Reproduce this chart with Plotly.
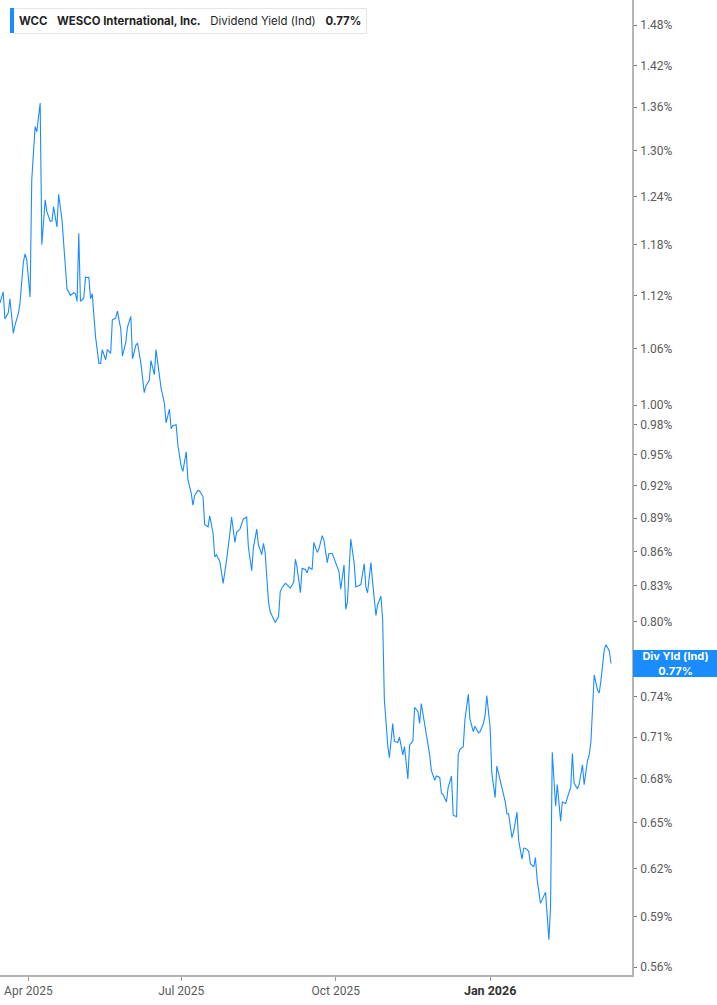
import math
import plotly.graph_objects as go

# ---- data ----
dates = [
    "2025-03-15", "2025-03-17", "2025-03-18", "2025-03-20", "2025-03-21", "2025-03-23", "2025-03-24", "2025-03-26",
    "2025-03-27", "2025-03-29", "2025-03-30", "2025-03-31", "2025-04-02", "2025-04-03", "2025-04-05", "2025-04-06",
    "2025-04-08", "2025-04-09", "2025-04-11", "2025-04-12", "2025-04-14", "2025-04-15", "2025-04-16", "2025-04-18",
    "2025-04-19", "2025-04-21", "2025-04-22", "2025-04-24", "2025-04-25", "2025-04-26", "2025-04-28", "2025-04-29",
    "2025-04-30", "2025-05-01", "2025-05-02", "2025-05-04", "2025-05-05", "2025-05-07", "2025-05-08", "2025-05-09",
    "2025-05-11", "2025-05-13", "2025-05-14", "2025-05-15", "2025-05-17", "2025-05-18", "2025-05-20", "2025-05-21",
    "2025-05-23", "2025-05-24", "2025-05-26", "2025-05-27", "2025-05-29", "2025-05-30", "2025-06-01", "2025-06-02",
    "2025-06-04", "2025-06-05", "2025-06-07", "2025-06-08", "2025-06-09", "2025-06-10", "2025-06-12", "2025-06-13",
    "2025-06-15", "2025-06-16", "2025-06-18", "2025-06-19", "2025-06-21", "2025-06-22", "2025-06-24", "2025-06-25",
    "2025-06-26", "2025-06-28", "2025-06-29", "2025-07-01", "2025-07-02", "2025-07-04", "2025-07-05", "2025-07-07",
    "2025-07-08", "2025-07-09", "2025-07-11", "2025-07-12", "2025-07-14", "2025-07-15", "2025-07-17", "2025-07-18",
    "2025-07-20", "2025-07-21", "2025-07-22", "2025-07-24", "2025-07-26", "2025-07-27", "2025-07-28", "2025-07-30",
    "2025-07-31", "2025-08-02", "2025-08-03", "2025-08-05", "2025-08-06", "2025-08-07", "2025-08-09", "2025-08-10",
    "2025-08-12", "2025-08-13", "2025-08-15", "2025-08-16", "2025-08-18", "2025-08-19", "2025-08-20", "2025-08-22",
    "2025-08-23", "2025-08-25", "2025-08-26", "2025-08-28", "2025-08-29", "2025-08-30", "2025-09-01", "2025-09-02",
    "2025-09-04", "2025-09-06", "2025-09-07", "2025-09-08", "2025-09-10", "2025-09-11", "2025-09-13", "2025-09-14",
    "2025-09-15", "2025-09-17", "2025-09-18", "2025-09-20", "2025-09-21", "2025-09-23", "2025-09-24", "2025-09-26",
    "2025-09-27", "2025-09-29", "2025-09-30", "2025-10-01", "2025-10-03", "2025-10-04", "2025-10-06", "2025-10-07",
    "2025-10-08", "2025-10-10", "2025-10-12", "2025-10-13", "2025-10-15", "2025-10-16", "2025-10-18", "2025-10-19",
    "2025-10-20", "2025-10-22", "2025-10-23", "2025-10-25", "2025-10-26", "2025-10-28", "2025-10-29", "2025-10-30",
    "2025-11-01", "2025-11-02", "2025-11-04", "2025-11-05", "2025-11-07", "2025-11-08", "2025-11-10", "2025-11-11",
    "2025-11-13", "2025-11-14", "2025-11-16", "2025-11-17", "2025-11-19", "2025-11-20", "2025-11-21", "2025-11-23",
    "2025-11-24", "2025-11-26", "2025-11-27", "2025-11-29", "2025-11-30", "2025-12-02", "2025-12-03", "2025-12-04",
    "2025-12-06", "2025-12-07", "2025-12-09", "2025-12-10", "2025-12-12", "2025-12-13", "2025-12-14", "2025-12-16",
    "2025-12-17", "2025-12-19", "2025-12-20", "2025-12-22", "2025-12-23", "2025-12-25", "2025-12-26", "2025-12-28",
    "2025-12-29", "2025-12-30", "2026-01-01", "2026-01-02", "2026-01-04", "2026-01-05", "2026-01-07", "2026-01-08",
    "2026-01-10", "2026-01-11", "2026-01-12", "2026-01-14", "2026-01-15", "2026-01-17", "2026-01-18", "2026-01-20",
    "2026-01-21", "2026-01-22", "2026-01-24", "2026-01-25", "2026-01-27", "2026-01-28", "2026-01-29", "2026-01-31",
    "2026-02-02", "2026-02-03", "2026-02-05", "2026-02-06", "2026-02-07", "2026-02-09", "2026-02-10", "2026-02-12",
    "2026-02-13", "2026-02-15", "2026-02-16", "2026-02-18", "2026-02-19", "2026-02-20", "2026-02-22", "2026-02-23",
    "2026-02-25", "2026-02-26", "2026-02-28", "2026-03-01", "2026-03-02", "2026-03-04", "2026-03-06", "2026-03-07",
    "2026-03-08", "2026-03-10", "2026-03-11", "2026-03-13", "2026-03-14",
]

div_yield = [
    1.111, 1.124, 1.093, 1.100, 1.116, 1.077, 1.086, 1.099,
    1.111, 1.159, 1.169, 1.162, 1.118, 1.262, 1.333, 1.326,
    1.366, 1.180, 1.236, 1.221, 1.209, 1.209, 1.227, 1.202,
    1.243, 1.211, 1.182, 1.127, 1.124, 1.120, 1.123, 1.122,
    1.113, 1.194, 1.113, 1.117, 1.141, 1.141, 1.116, 1.122,
    1.073, 1.044, 1.044, 1.059, 1.048, 1.059, 1.055, 1.092,
    1.094, 1.102, 1.082, 1.052, 1.067, 1.084, 1.096, 1.049,
    1.064, 1.066, 1.044, 1.024, 1.013, 1.020, 1.026, 1.047,
    1.032, 1.059, 1.028, 1.018, 1.002, 0.982, 0.996, 0.976,
    0.979, 0.980, 0.960, 0.939, 0.934, 0.953, 0.926, 0.913,
    0.902, 0.911, 0.916, 0.915, 0.910, 0.884, 0.882, 0.892,
    0.876, 0.855, 0.857, 0.851, 0.832, 0.841, 0.852, 0.876,
    0.891, 0.868, 0.877, 0.880, 0.885, 0.889, 0.891, 0.864,
    0.843, 0.863, 0.880, 0.866, 0.857, 0.867, 0.859, 0.816,
    0.808, 0.802, 0.799, 0.804, 0.825, 0.828, 0.832, 0.831,
    0.828, 0.833, 0.853, 0.846, 0.824, 0.845, 0.844, 0.841,
    0.846, 0.844, 0.868, 0.859, 0.862, 0.874, 0.870, 0.850,
    0.858, 0.858, 0.854, 0.850, 0.842, 0.827, 0.848, 0.810,
    0.816, 0.871, 0.850, 0.829, 0.830, 0.831, 0.849, 0.829,
    0.824, 0.850, 0.833, 0.805, 0.814, 0.821, 0.801, 0.738,
    0.704, 0.695, 0.720, 0.707, 0.706, 0.710, 0.697, 0.703,
    0.680, 0.704, 0.707, 0.732, 0.729, 0.720, 0.735, 0.721,
    0.712, 0.697, 0.686, 0.679, 0.682, 0.681, 0.670, 0.669,
    0.664, 0.674, 0.682, 0.655, 0.654, 0.697, 0.701, 0.703,
    0.723, 0.742, 0.723, 0.714, 0.718, 0.713, 0.714, 0.720,
    0.726, 0.741, 0.717, 0.684, 0.667, 0.689, 0.678, 0.674,
    0.664, 0.656, 0.656, 0.640, 0.644, 0.657, 0.638, 0.626,
    0.633, 0.633, 0.631, 0.623, 0.621, 0.627, 0.613, 0.598,
    0.602, 0.605, 0.576, 0.596, 0.699, 0.661, 0.676, 0.651,
    0.664, 0.663, 0.667, 0.674, 0.698, 0.677, 0.673, 0.676,
    0.690, 0.676, 0.693, 0.697, 0.706, 0.757, 0.745, 0.743,
    0.753, 0.777, 0.781, 0.776, 0.766,
]

y_tick_values = [0.56, 0.59, 0.62, 0.65, 0.68, 0.71, 0.74, 0.77, 0.80, 0.83, 0.86,
                 0.89, 0.92, 0.95, 0.98, 1.00, 1.06, 1.12, 1.18, 1.24, 1.30, 1.36,
                 1.42, 1.48]
x_tick_values = ["2025-04-01", "2025-07-01", "2025-10-01", "2026-01-01"]
x_tick_labels = ["Apr 2025", "Jul 2025", "Oct 2025",
                 "<b><span style='font-size:12.5px;color:#333333'>Jan 2026</span></b>"]

ticker = "WCC"
company = "WESCO International, Inc."
metric = "Dividend Yield (Ind)"
badge_title = "Div Yld (Ind)"

LINE_BLUE = "#1a8cff"
AXIS_GREY = "#b4b4b4"
TICK_TEXT = "#5a5a5a"

last_val = div_yield[-1]

fig = go.Figure()
fig.add_trace(go.Scatter(
    x=dates, y=div_yield, mode="lines",
    line=dict(color=LINE_BLUE, width=1.1),
    hoverinfo="skip", showlegend=False,
))

# the tick under the value badge keeps its mark but its label is covered
y_tick_text = ["" if abs(v - round(last_val, 2)) < 1e-9 else f"{v:.2f}%" for v in y_tick_values]

fig.update_layout(
    width=717, height=1005,
    margin=dict(l=0, r=85, t=0, b=30, autoexpand=False),
    paper_bgcolor="white", plot_bgcolor="white",
    font=dict(family="Roboto, Arial, sans-serif", size=12, color=TICK_TEXT),
    showlegend=False,
    xaxis=dict(
        type="date",
        range=["2025-03-15 02:00", "2026-03-26 12:00"],
        tickmode="array", tickvals=x_tick_values, ticktext=x_tick_labels,
        showgrid=False, zeroline=False,
        showline=True, linecolor=AXIS_GREY, linewidth=1.5,
        ticks="outside", ticklen=4, tickcolor="#999999", tickwidth=1,
        tickfont=dict(family="Roboto, Arial, sans-serif", size=12, color=TICK_TEXT),
        fixedrange=True,
    ),
    yaxis=dict(
        type="log", side="right",
        range=[math.log10(0.5554), math.log10(1.5191)],
        tickmode="array", tickvals=y_tick_values, ticktext=y_tick_text,
        showgrid=False, zeroline=False,
        showline=True, linecolor=AXIS_GREY, linewidth=1.5,
        ticks="outside", ticklen=3, tickcolor="#777777", tickwidth=1,
        ticklabelstandoff=1,
        tickfont=dict(family="Roboto, Arial, sans-serif", size=12, color=TICK_TEXT),
        fixedrange=True,
    ),
)

# header legend box (blue accent bar on its left edge)
header = (f"<b>{ticker}</b>&nbsp;&nbsp;&nbsp;<b>{company}</b>&nbsp;&nbsp;&nbsp;"
          f"{metric}&nbsp;&nbsp;&nbsp;<b>{last_val:.2f}%</b>")
fig.add_annotation(
    xref="paper", yref="paper", x=0, y=1, xanchor="left", yanchor="top",
    xshift=13, yshift=-8,
    text=header, showarrow=False, align="left",
    font=dict(family="Inter, Roboto, sans-serif", size=11.4, color="#1f1f1f"),
    bgcolor="white", bordercolor="#e6e6e6", borderwidth=1, borderpad=5,
)
fig.add_annotation(
    xref="paper", yref="paper", x=0, y=1, xanchor="left", yanchor="top",
    xshift=10, yshift=-8,
    text="", showarrow=False,
    bgcolor=LINE_BLUE, borderpad=0, borderwidth=0,
    width=3.5, height=25,
)

# value badge on the right axis
fig.add_annotation(
    xref="paper", yref="y", x=1, y=math.log10(last_val),
    xanchor="left", yanchor="middle", xshift=0.5,
    text=f"<b>{badge_title}</b><br><b>{last_val:.2f}%</b>",
    showarrow=False, align="center",
    font=dict(family="Inter, Roboto, sans-serif", size=11, color="white"),
    bgcolor=LINE_BLUE, borderpad=1, borderwidth=0,
    width=83, height=25,
)

fig.write_html("out.html", config={"displayModeBar": False},
               post_script="document.body.style.margin='0';")
